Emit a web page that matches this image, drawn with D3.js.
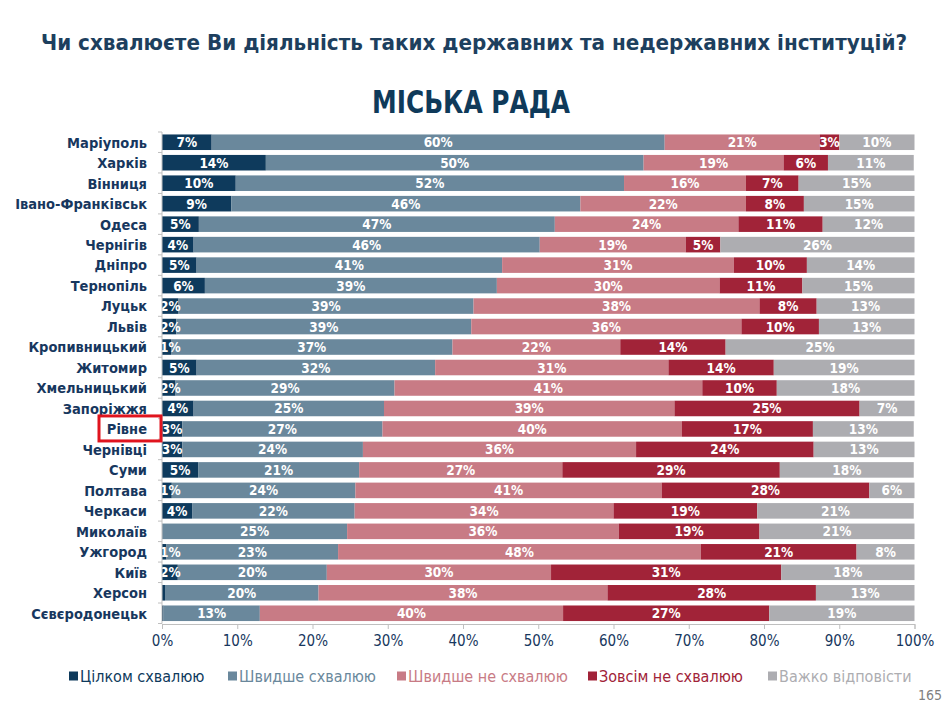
<!DOCTYPE html>
<html>
<head>
<meta charset="utf-8">
<script src="https://cdn.jsdelivr.net/npm/d3@7"></script>
<style>
  body { margin: 0; background: #ffffff; }
  svg { display: block; }
</style>
</head>
<body>
<script>
var width = 950;
var height = 707;

// cities, top to bottom
var cities = ["Маріуполь", "Харків", "Вінниця", "Івано-Франківськ", "Одеса", "Чернігів",
  "Дніпро", "Тернопіль", "Луцьк", "Львів", "Кропивницький", "Житомир", "Хмельницький",
  "Запоріжжя", "Рівне", "Чернівці", "Суми", "Полтава", "Черкаси", "Миколаїв", "Ужгород",
  "Київ", "Херсон", "Сєвєродонецьк"];

var seriesNames = ["Цілком схвалюю", "Швидше схвалюю", "Швидше не схвалюю", "Зовсім не схвалюю", "Важко відповісти"];
var seriesColors = ["#0e3a5c", "#6a889c", "#c87b85", "#a12338", "#adadb1"];

// values (%), labels show them rounded
var fullyApprove   = [6.6, 13.8, 9.8, 9.2, 4.9, 4.2, 4.6, 5.7, 2.2, 1.9, 1.2, 4.6, 1.8, 4.2, 2.7, 2.7, 4.8, 1.3, 4.0, 0.0, 0.6, 2.1, 0.4, 0.2];
var ratherApprove  = [60.2, 50.2, 51.6, 46.4, 47.3, 46.0, 40.6, 38.8, 39.2, 39.2, 37.4, 31.7, 29.1, 25.3, 26.6, 24.0, 21.4, 24.4, 21.6, 24.6, 22.8, 19.8, 20.4, 12.8];
var ratherNot      = [20.6, 18.6, 16.2, 22.0, 24.4, 19.4, 30.8, 29.6, 38.0, 35.9, 22.3, 31.0, 40.9, 38.6, 39.8, 36.3, 27.0, 40.7, 34.4, 36.1, 48.2, 29.8, 38.4, 40.3];
var notAtAll       = [2.6, 5.9, 7.0, 7.7, 11.2, 4.6, 9.7, 11.0, 7.6, 10.3, 14.0, 14.0, 9.9, 24.6, 17.4, 23.6, 28.9, 27.6, 19.1, 18.7, 20.7, 30.6, 27.7, 27.4];
var hardToSay      = [10.0, 11.4, 15.4, 14.7, 12.2, 25.8, 14.3, 14.9, 13.0, 12.7, 25.1, 18.7, 18.3, 7.3, 13.4, 13.4, 17.8, 6.0, 20.8, 20.6, 7.7, 17.7, 13.1, 19.3];

var xTicks = [0, 10, 20, 30, 40, 50, 60, 70, 80, 90, 100];
var highlighted = "Рівне";

var rows = cities.map(function(c, i) {
  return {city: c, v0: fullyApprove[i], v1: ratherApprove[i], v2: ratherNot[i], v3: notAtAll[i], v4: hardToSay[i]};
});
var keys = ["v0", "v1", "v2", "v3", "v4"];

var navy = "#17375e";
var font = "'DejaVu Sans', Verdana, sans-serif";
var cond = "'DejaVu Sans Condensed', 'DejaVu Sans', sans-serif";

var svg = d3.select("body")
  .append("svg")
  .attr("width", width)
  .attr("height", height)
  .style("font-family", font);

var x = d3.scaleLinear().domain([0, 100]).range([162, 914.5]);
var y = d3.scaleBand().domain(cities).range([132, 623.5]).paddingInner(0.24).paddingOuter(0.12);

// titles
svg.append("text")
  .attr("x", 474).attr("y", 50)
  .attr("text-anchor", "middle")
  .attr("fill", "#1d3f5e")
  .style("font-family", cond)
  .style("font-weight", "bold")
  .style("font-size", "22px")
  .attr("textLength", 866)
  .attr("lengthAdjust", "spacingAndGlyphs")
  .text("Чи схвалюєте Ви діяльність таких державних та недержавних інституцій?");

svg.append("text")
  .attr("x", 471).attr("y", 113)
  .attr("text-anchor", "middle")
  .attr("fill", "#0f3a5a")
  .style("font-family", cond)
  .style("font-weight", "bold")
  .style("font-size", "32px")
  .attr("textLength", 198)
  .attr("lengthAdjust", "spacingAndGlyphs")
  .text("МІСЬКА РАДА");

// stacked bars
var stack = d3.stack().keys(keys)(rows);

var layers = svg.append("g")
  .attr("class", "bars")
  .selectAll("g")
  .data(stack)
  .enter()
  .append("g")
  .attr("fill", function(d, i) { return seriesColors[i]; });

layers.selectAll("rect")
  .data(function(d) { return d; })
  .enter()
  .append("rect")
  .attr("x", function(d) { return x(d[0]); })
  .attr("width", function(d) { return Math.max(0, x(d[1]) - x(d[0])); })
  .attr("y", function(d) { return y(d.data.city); })
  .attr("height", y.bandwidth());

// value labels
var labels = svg.append("g").attr("class", "labels");
stack.forEach(function(layer) {
  labels.selectAll(null)
    .data(layer.filter(function(d) { return Math.round(d[1] - d[0]) > 0; }))
    .enter()
    .append("text")
    .attr("x", function(d) { return (x(d[0]) + x(d[1])) / 2; })
    .attr("y", function(d) { return y(d.data.city) + y.bandwidth() / 2; })
    .attr("dy", "0.37em")
    .attr("text-anchor", "middle")
    .attr("fill", "#ffffff")
    .style("font-family", cond)
    .style("font-weight", "bold")
    .style("font-size", "13.5px")
    .text(function(d) { return Math.round(d[1] - d[0]) + "%"; })
    .each(function(d) {
      // labels of tiny first segments sit against the axis
      var w = this.getComputedTextLength();
      var cx = (x(d[0]) + x(d[1])) / 2;
      if (cx - w / 2 < x(0) - 2) d3.select(this).attr("x", x(0) - 2 + w / 2);
    });
});

// white cover left of the axis so small labels get cut like in the original
svg.append("rect")
  .attr("x", 150).attr("y", 130)
  .attr("width", 12).attr("height", 495)
  .attr("fill", "#ffffff");

// category axis
var yAxis = svg.append("g").attr("class", "y-axis");
yAxis.append("line")
  .attr("x1", x(0)).attr("x2", x(0))
  .attr("y1", 132).attr("y2", 623.5)
  .attr("stroke", "#bfbfbf");
var bounds = cities.map(function(c) { return y(c) - y.step() * y.paddingInner() / 2; });
bounds.push(623.5);
yAxis.selectAll(".tk")
  .data(bounds)
  .enter()
  .append("line")
  .attr("x1", x(0) - 4).attr("x2", x(0))
  .attr("y1", function(d) { return d; }).attr("y2", function(d) { return d; })
  .attr("stroke", "#bfbfbf");
yAxis.selectAll("text")
  .data(cities)
  .enter()
  .append("text")
  .attr("x", 147)
  .attr("y", function(d) { return y(d) + y.bandwidth() / 2; })
  .attr("dy", "0.37em")
  .attr("text-anchor", "end")
  .attr("fill", navy)
  .style("font-family", cond)
  .style("font-weight", "bold")
  .style("font-size", "14.5px")
  .text(function(d) { return d; });

// highlight box
svg.append("rect")
  .attr("x", 99)
  .attr("y", y(highlighted) + y.bandwidth() / 2 - 13)
  .attr("width", 62)
  .attr("height", 25)
  .attr("fill", "none")
  .attr("stroke", "#e0141e")
  .attr("stroke-width", 3);

// x axis
var xAxis = svg.append("g")
  .attr("transform", "translate(0,624)")
  .call(d3.axisBottom(x).tickValues(xTicks).tickSize(5).tickPadding(6)
    .tickFormat(function(d) { return d + "%"; }));
xAxis.select(".domain").attr("stroke", "#bfbfbf");
xAxis.selectAll(".tick line").attr("stroke", "#bfbfbf");
xAxis.selectAll(".tick text")
  .attr("fill", navy)
  .style("font-family", cond)
  .style("font-size", "15px");

// legend
var legendX = [69, 228, 397, 588, 768];
var legend = svg.append("g")
  .selectAll("g")
  .data(seriesNames)
  .enter()
  .append("g")
  .attr("transform", function(d, i) { return "translate(" + legendX[i] + ",676)"; });
legend.append("rect")
  .attr("x", 0).attr("y", -4.5)
  .attr("width", 9).attr("height", 9)
  .attr("fill", function(d, i) { return seriesColors[i]; });
legend.append("text")
  .attr("x", 11).attr("y", 0)
  .attr("dy", "0.37em")
  .attr("fill", function(d, i) { return seriesColors[i]; })
  .style("font-family", cond)
  .style("font-size", "16px")
  .text(function(d) { return d; });

// page number
svg.append("text")
  .attr("x", 942).attr("y", 700)
  .attr("text-anchor", "end")
  .attr("fill", "#7f7f7f")
  .style("font-family", cond)
  .style("font-size", "14px")
  .text("165");
</script>
</body>
</html>
